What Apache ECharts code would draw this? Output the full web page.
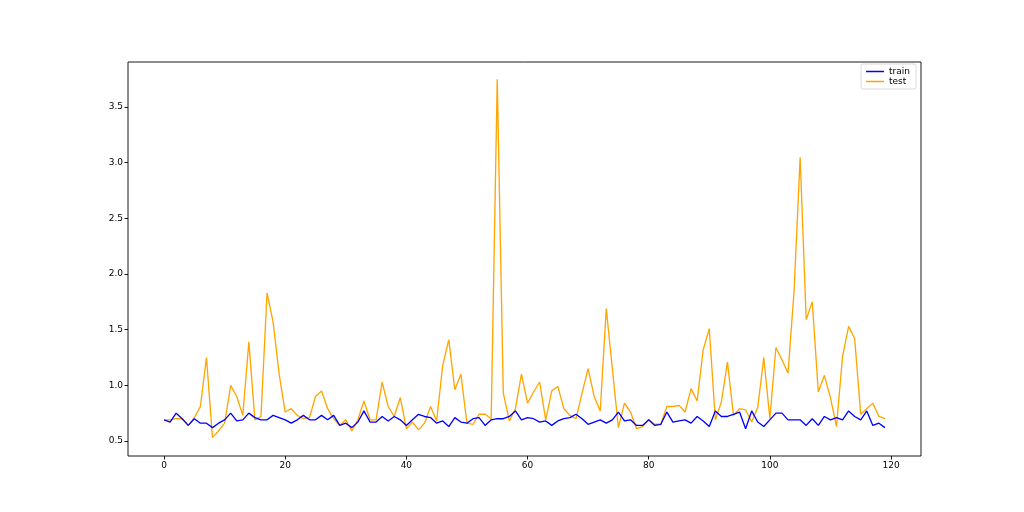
<!DOCTYPE html>
<html>
  <head>
    <meta charset="utf-8" />
    <title>train / test</title>
    <script src="https://cdn.jsdelivr.net/npm/echarts@6.0.0/dist/echarts.min.js"></script>
    <style>
      body { margin: 0; background: #fff; }
      #chart { width: 1024px; height: 512px; }
    </style>
  </head>
<body>
  <div id="chart"></div>
  <script type="text/javascript">
var train = [
  0.69, 0.67, 0.75, 0.70, 0.64, 0.70, 0.66, 0.66, 0.62, 0.66,
  0.69, 0.75, 0.68, 0.69, 0.75, 0.71, 0.69, 0.69, 0.73, 0.71,
  0.69, 0.66, 0.69, 0.73, 0.69, 0.69, 0.73, 0.69, 0.73, 0.64,
  0.66, 0.62, 0.67, 0.77, 0.67, 0.67, 0.72, 0.68, 0.72, 0.69,
  0.64, 0.69, 0.74, 0.72, 0.71, 0.66, 0.68, 0.63, 0.71, 0.67,
  0.66, 0.70, 0.71, 0.64, 0.69, 0.70, 0.70, 0.72, 0.77, 0.69,
  0.71, 0.70, 0.67, 0.68, 0.64, 0.68, 0.70, 0.71, 0.74, 0.70,
  0.65, 0.67, 0.69, 0.66, 0.69, 0.76, 0.68, 0.69, 0.64, 0.64,
  0.69, 0.64, 0.65, 0.76, 0.67, 0.68, 0.69, 0.66, 0.72, 0.68,
  0.63, 0.77, 0.72, 0.72, 0.74, 0.76, 0.61, 0.77, 0.67, 0.63,
  0.69, 0.75, 0.75, 0.69, 0.69, 0.69, 0.64, 0.70, 0.64, 0.72,
  0.69, 0.71, 0.69, 0.77, 0.72, 0.69, 0.77, 0.64, 0.66, 0.62
];
var test = [
  0.69, 0.69, 0.70, 0.70, 0.64, 0.71, 0.81, 1.25, 0.53, 0.59,
  0.66, 1.00, 0.90, 0.73, 1.39, 0.69, 0.72, 1.83, 1.57, 1.10,
  0.76, 0.79, 0.73, 0.70, 0.71, 0.90, 0.95, 0.79, 0.70, 0.64,
  0.69, 0.59, 0.69, 0.86, 0.69, 0.69, 1.03, 0.81, 0.72, 0.89,
  0.61, 0.67, 0.60, 0.66, 0.81, 0.68, 1.18, 1.41, 0.96, 1.10,
  0.66, 0.65, 0.74, 0.74, 0.70, 3.75, 0.93, 0.68, 0.79, 1.10,
  0.84, 0.94, 1.03, 0.69, 0.95, 0.99, 0.79, 0.73, 0.70, 0.93,
  1.15, 0.90, 0.77, 1.69, 1.15, 0.62, 0.84, 0.76, 0.61, 0.63,
  0.69, 0.65, 0.65, 0.81, 0.81, 0.82, 0.76, 0.97, 0.86, 1.32,
  1.51, 0.69, 0.85, 1.21, 0.73, 0.79, 0.78, 0.67, 0.80, 1.25,
  0.70, 1.34, 1.23, 1.11, 1.85, 3.05, 1.59, 1.75, 0.94, 1.09,
  0.89, 0.63, 1.26, 1.53, 1.42, 0.74, 0.79, 0.84, 0.72, 0.70
];
var xTicks = [0, 20, 40, 60, 80, 100, 120];
var yTicks = [0.5, 1.0, 1.5, 2.0, 2.5, 3.0, 3.5];

function pairs(values) {
  return values.map(function (v, i) { return [i, v]; });
}

var chart = echarts.init(document.getElementById('chart'));
var axisCommon = {
  axisLine: { show: false, onZero: false },
  splitLine: { show: false },
  axisTick: { show: true, length: 3.5, lineStyle: { color: '#000', width: 0.9 } },
  axisLabel: { color: '#000', fontSize: 9, fontFamily: 'DejaVu Sans', margin: 5 }
};

var option = {
  animation: false,
  grid: {
    left: 128, right: 103, top: 62, bottom: 56,
    show: true, borderColor: '#000', borderWidth: 0.9, backgroundColor: '#fff'
  },
  legend: {
    data: ['train', 'test'],
    orient: 'vertical',
    right: 108, top: 64,
    icon: 'rect',
    itemWidth: 18, itemHeight: 1.5, itemGap: 1,
    padding: [3, 6, 3, 5],
    borderColor: '#d0d0d0', borderWidth: 0.8, borderRadius: 2,
    textStyle: { color: '#000', fontSize: 9, fontFamily: 'DejaVu Sans', padding: [0, 0, 0, 0] }
  },
  xAxis: echarts.util.merge({
    type: 'value', min: -5.95, max: 124.95,
    axisTick: { customValues: xTicks },
    axisLabel: { customValues: xTicks }
  }, axisCommon),
  yAxis: echarts.util.merge({
    type: 'value', min: 0.365, max: 3.905,
    axisTick: { customValues: yTicks },
    axisLabel: { customValues: yTicks, formatter: function (v) { return v.toFixed(1); } }
  }, axisCommon),
  series: [
    {
      name: 'train', type: 'line', data: pairs(train), symbol: 'none',
      color: '#0000ff', lineStyle: { width: 1.33, color: '#0000ff' }, z: 3
    },
    {
      name: 'test', type: 'line', data: pairs(test), symbol: 'none',
      color: '#ffa500', lineStyle: { width: 1.33, color: '#ffa500' }, z: 2
    }
  ]
};
chart.setOption(option);
  </script>
</body>
</html>
